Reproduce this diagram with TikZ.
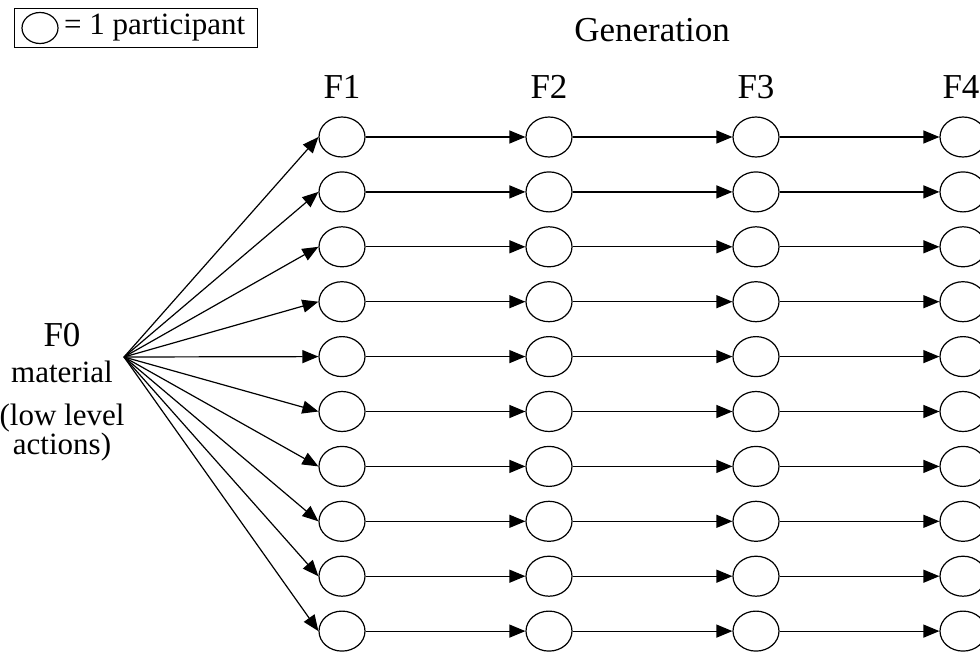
\documentclass[tikz,border=0pt]{standalone}
\usepackage{fontspec}
\setmainfont{Liberation Serif}
\usetikzlibrary{arrows.meta,shapes.geometric}
\begin{document}
\begin{tikzpicture}[x=1pt,y=-1pt,
  part/.style={draw, ellipse, line width=1.2pt, minimum width=46pt, minimum height=40pt, inner sep=0pt},
  link/.style={line width=1.2pt, -{Triangle[length=16pt,width=13pt]}},
  big/.style={font=\fontsize{35}{38}\selectfont, inner sep=0pt},
  small/.style={font=\fontsize{31}{29}\selectfont, inner sep=0pt}]
\useasboundingbox (0,0) rectangle (980,653);
\fill[white] (0,0) rectangle (980,653);
% legend
\node[draw, line width=1pt, minimum width=243pt, minimum height=39pt, inner sep=0pt] (leg) at (135.5,27.5) {};
\node[part, minimum width=36pt, minimum height=31pt] (legE) at (40,28) {};
\node[small, anchor=west] (legT) at (64,28) {= 1 participant};
% headings
\node[big] (gen) at (652,30) {Generation};
\node[big] (h1) at (342,87) {F1};
\node[big] (h2) at (549,87) {F2};
\node[big] (h3) at (756,87) {F3};
\node[big] (h4) at (961,87) {F4};
% F0
\node[big] (f0) at (62,335) {F0};
\node[small] (mat) at (62,372) {material};
\node[small, align=center] (act) at (62,433) {(low level\\actions)};
\coordinate (fan) at (124,357);
% participants
\foreach \c/\x in {1/342,2/549,3/756,4/963}
  \foreach \r in {0,...,9}
    \node[part] (n\c-\r) at (\x,137+54.9*\r) {};
\foreach \r in {0,...,9}{
  \draw[link] (fan) -- (n1-\r.west);
  \draw[link] (n1-\r.east) -- (n2-\r.west);
  \draw[link] (n2-\r.east) -- (n3-\r.west);
  \draw[link] (n3-\r.east) -- (n4-\r.west);
}
\end{tikzpicture}
\end{document}
